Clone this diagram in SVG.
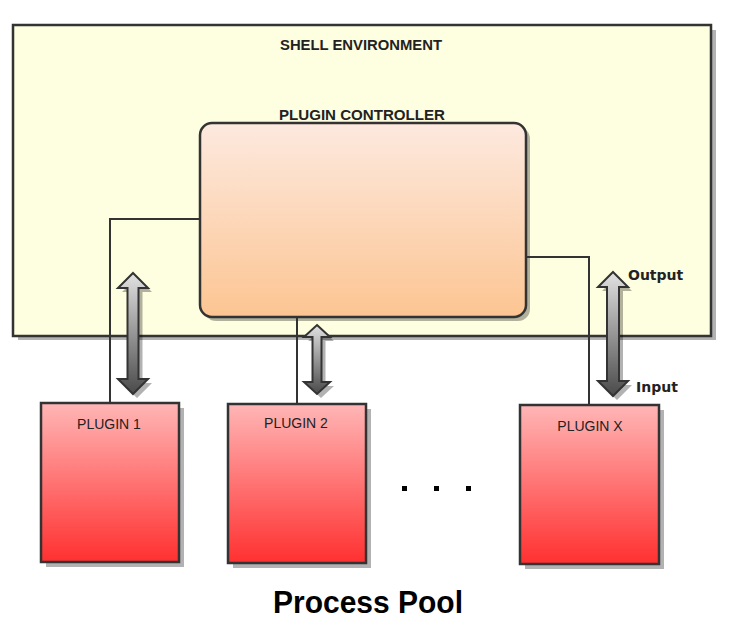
<svg xmlns="http://www.w3.org/2000/svg" width="734" height="634" viewBox="0 0 734 634">
<defs>
<linearGradient id="gCtrl" x1="0" y1="0" x2="0" y2="1">
<stop offset="0" stop-color="#fde9df"/>
<stop offset="1" stop-color="#fcc592"/>
</linearGradient>
<linearGradient id="gPlug" x1="0" y1="0" x2="0" y2="1">
<stop offset="0" stop-color="#ffb6b6"/>
<stop offset="1" stop-color="#ff3030"/>
</linearGradient>
<linearGradient id="gArrow" x1="0" y1="0" x2="0" y2="1">
<stop offset="0" stop-color="#e2e2e2"/>
<stop offset="1" stop-color="#4a4a4a"/>
</linearGradient>
<style>
.box{stroke:#333;stroke-width:2.5}
.shadow{fill:#000;fill-opacity:0.3}
.conn{fill:none;stroke:#333;stroke-width:2}
.arrow{fill:url(#gArrow);stroke:#333;stroke-width:2;stroke-linejoin:miter}
.lbl{font-family:"Liberation Sans",Arial,sans-serif;fill:#222}
.title{font-weight:bold;font-size:14px;text-anchor:middle}
.plabel{font-size:14px;text-anchor:middle}
.io{font-family:"DejaVu Sans",sans-serif;font-weight:bold;font-size:14px;fill:#222}
</style>
</defs>

<g id="shell">
<rect x="18" y="30" width="698" height="310" class="shadow"/>
<rect x="13" y="25" width="698" height="311" fill="#fefee0" class="box"/>
<text x="361" y="50" class="lbl title" textLength="162" lengthAdjust="spacingAndGlyphs">SHELL ENVIRONMENT</text>
</g>

<g id="controller">
<rect x="204" y="127" width="326" height="194" rx="12" class="shadow"/>
<rect x="200" y="123" width="326" height="194" rx="12" fill="url(#gCtrl)" class="box"/>
<text x="362" y="120" class="lbl title" textLength="166" lengthAdjust="spacingAndGlyphs">PLUGIN CONTROLLER</text>
</g>

<g id="connectors">
<path d="M200,219 H110 V403" class="conn"/>
<path d="M297,317 V404" class="conn"/>
<path d="M526,257 H589 V405" class="conn"/>
<g transform="translate(4,4)" class="shadow">
<path d="M133,273 L148,288 L138.5,288 L138.5,379 L148,379 L133,394 L118,379 L127.5,379 L127.5,288 L118,288 Z"/>
<path d="M317,325 L330,337 L321.5,337 L321.5,382 L330,382 L317,394 L304,382 L312.5,382 L312.5,337 L304,337 Z"/>
<path d="M613,272 L628,287 L619,287 L619,381 L628,381 L613,396 L598,381 L607,381 L607,287 L598,287 Z"/>
</g>
<path d="M133,273 L148,288 L138.5,288 L138.5,379 L148,379 L133,394 L118,379 L127.5,379 L127.5,288 L118,288 Z" class="arrow"/>
<path d="M317,325 L330,337 L321.5,337 L321.5,382 L330,382 L317,394 L304,382 L312.5,382 L312.5,337 L304,337 Z" class="arrow"/>
<path d="M613,272 L628,287 L619,287 L619,381 L628,381 L613,396 L598,381 L607,381 L607,287 L598,287 Z" class="arrow"/>
<text x="628" y="280" class="io">Output</text>
<text x="636" y="392" class="io">Input</text>
</g>

<g id="plugin1">
<rect x="46" y="408" width="138" height="159" class="shadow"/>
<rect x="41" y="403" width="138" height="159" fill="url(#gPlug)" class="box"/>
<text x="109" y="429" class="lbl plabel">PLUGIN 1</text>
</g>

<g id="plugin2">
<rect x="233" y="409" width="138" height="159" class="shadow"/>
<rect x="228" y="404" width="138" height="159" fill="url(#gPlug)" class="box"/>
<text x="296" y="428" class="lbl plabel">PLUGIN 2</text>
</g>

<g id="pluginX">
<rect x="525" y="410" width="139" height="159" class="shadow"/>
<rect x="520" y="405" width="139" height="159" fill="url(#gPlug)" class="box"/>
<text x="590" y="431" class="lbl plabel">PLUGIN X</text>
</g>

<g id="ellipsis" fill="#000">
<rect x="402" y="486" width="5" height="5"/>
<rect x="434" y="486" width="5" height="5"/>
<rect x="466" y="486" width="5" height="5"/>
</g>

<text x="368" y="613" font-family="'Liberation Sans',Arial,sans-serif" font-weight="bold" font-size="31" text-anchor="middle" fill="#000" textLength="190" lengthAdjust="spacingAndGlyphs">Process Pool</text>
</svg>
